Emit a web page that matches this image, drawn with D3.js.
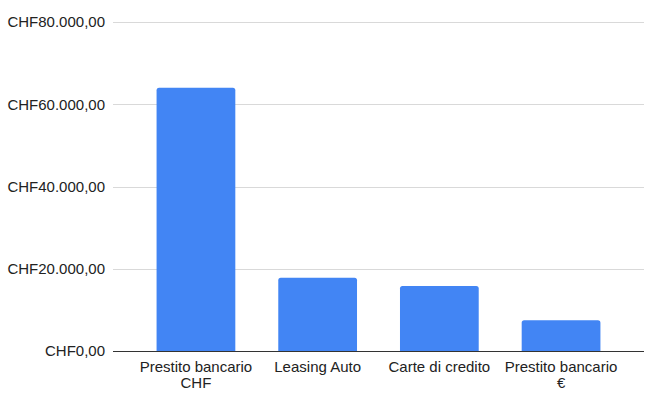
<!DOCTYPE html>
<html>
<head>
<meta charset="utf-8">
<script src="https://cdn.jsdelivr.net/npm/d3@7"></script>
<style>
  body { margin: 0; background: #fff; }
  text { font-family: "Liberation Sans", Arial, sans-serif; fill: #222; }
</style>
</head>
<body>
<div id="chart"></div>
<script>
// dati
var categories = [["Prestito bancario", "CHF"], ["Leasing Auto"], ["Carte di credito"], ["Prestito bancario", "€"]];
var values = [64000, 17800, 15800, 7500];
var yTicks = [0, 20000, 40000, 60000, 80000];

var width = 661, height = 399;
var margin = { top: 22, right: 17, bottom: 48, left: 113 };

var svg = d3.select("#chart").append("svg")
    .attr("width", width)
    .attr("height", height);

var x = d3.scaleBand()
    .domain(d3.range(categories.length))
    .range([margin.left, width - margin.right])
    .paddingInner(0.353)
    .paddingOuter(0.358);

var y = d3.scaleLinear()
    .domain([0, 80000])
    .range([height - margin.bottom, margin.top]);

// formato CHF80.000,00
var fmt = function (v) {
    var s = d3.format(",.2f")(v).replace(/,/g, "#").replace(".", ",").replace(/#/g, ".");
    return "CHF" + s;
};

// griglia
svg.append("g")
    .selectAll("line")
    .data(yTicks.filter(d => d > 0))
    .enter()
    .append("line")
    .attr("x1", margin.left)
    .attr("x2", width - margin.right)
    .attr("y1", d => Math.round(y(d)) + 0.5)
    .attr("y2", d => Math.round(y(d)) + 0.5)
    .attr("stroke", "#d9d9d9")
    .attr("stroke-width", 1);

// etichette asse y
svg.append("g")
    .selectAll("text")
    .data(yTicks)
    .enter()
    .append("text")
    .attr("x", margin.left - 8)
    .attr("y", d => y(d))
    .attr("dy", "0.36em")
    .attr("text-anchor", "end")
    .style("font-size", "15px")
    .text(fmt);

// barre con angoli superiori arrotondati
var r = 2.5;
svg.append("g")
    .selectAll("path")
    .data(values)
    .enter()
    .append("path")
    .attr("fill", "#4285f4")
    .attr("d", function (d, i) {
        var x0 = x(i), x1 = x(i) + x.bandwidth(), y0 = y(0), y1 = y(d);
        return "M" + x0 + "," + y0 +
            "V" + (y1 + r) +
            "Q" + x0 + "," + y1 + " " + (x0 + r) + "," + y1 +
            "H" + (x1 - r) +
            "Q" + x1 + "," + y1 + " " + x1 + "," + (y1 + r) +
            "V" + y0 + "Z";
    });

// linea dello zero
svg.append("line")
    .attr("x1", margin.left)
    .attr("x2", width - margin.right)
    .attr("y1", Math.round(y(0)) + 0.5)
    .attr("y2", Math.round(y(0)) + 0.5)
    .attr("stroke", "#333")
    .attr("stroke-width", 1);

// etichette asse x
var xl = svg.append("g")
    .selectAll("text")
    .data(categories)
    .enter()
    .append("text")
    .attr("text-anchor", "middle")
    .style("font-size", "15px")
    .attr("x", (d, i) => x(i) + x.bandwidth() / 2)
    .attr("y", y(0) + 21);

xl.selectAll("tspan")
    .data(d => d)
    .enter()
    .append("tspan")
    .attr("x", function () { return d3.select(this.parentNode).attr("x"); })
    .attr("dy", (d, i) => i === 0 ? 0 : 16)
    .text(d => d);
</script>
</body>
</html>
